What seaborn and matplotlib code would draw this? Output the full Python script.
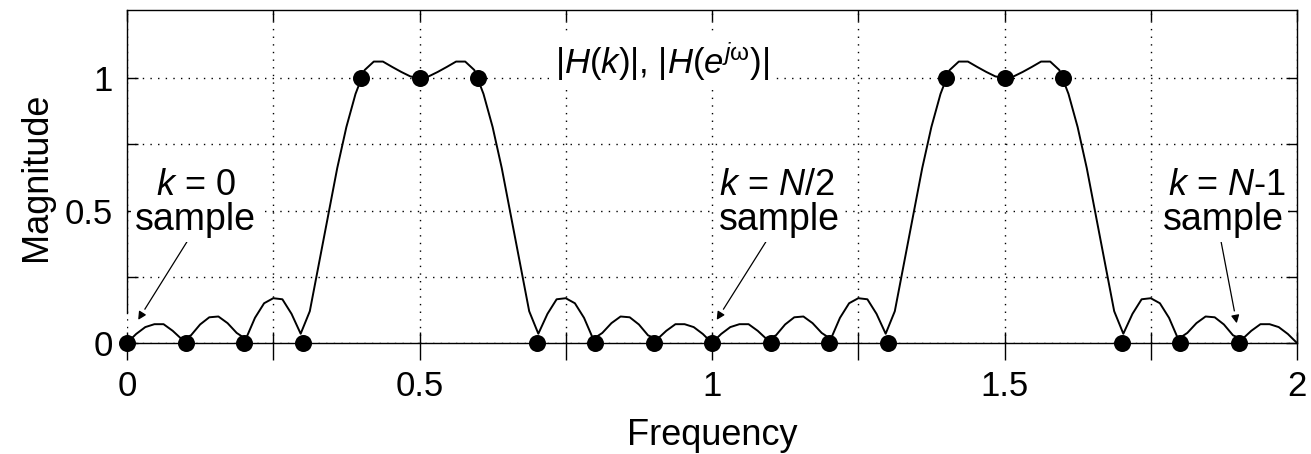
import numpy as np
import pandas as pd
import matplotlib
matplotlib.use("Agg")
import matplotlib.pyplot as plt
import seaborn as sns
from matplotlib import patheffects as pe

# ---- data ----
sample_freq = [0.0, 0.1, 0.2, 0.3, 0.4, 0.5, 0.6, 0.7, 0.8, 0.9,
               1.0, 1.1, 1.2, 1.3, 1.4, 1.5, 1.6, 1.7, 1.8, 1.9]
sample_mag = [0, 0, 0, 0, 1, 1, 1, 0, 0, 0,
              0, 0, 0, 0, 1, 1, 1, 0, 0, 0]

# continuous response |H(e^jw)|, read at 129 evenly spaced points over 0..2
curve_mag = [
    0.0, 0.034, 0.06, 0.071, 0.071, 0.046, 0.014, 0.029, 0.07, 0.097, 0.1,
    0.075, 0.038, 0.015, 0.095, 0.15, 0.169, 0.165, 0.11, 0.035, 0.12, 0.30,
    0.48, 0.66, 0.815, 0.94, 1.03, 1.062, 1.062, 1.042, 1.023, 1.006, 1.0,
    1.006, 1.023, 1.042, 1.062, 1.062, 1.03, 0.94, 0.815, 0.66, 0.48, 0.30,
    0.12, 0.035, 0.11, 0.165, 0.169, 0.15, 0.095, 0.015, 0.038, 0.075, 0.1,
    0.097, 0.07, 0.029, 0.014, 0.046, 0.071, 0.071, 0.06, 0.034, 0.0,
    0.034, 0.06, 0.071, 0.071, 0.046, 0.014, 0.029, 0.07, 0.097, 0.1,
    0.075, 0.038, 0.015, 0.095, 0.15, 0.169, 0.165, 0.11, 0.035, 0.12, 0.30,
    0.48, 0.66, 0.815, 0.94, 1.03, 1.062, 1.062, 1.042, 1.023, 1.006, 1.0,
    1.006, 1.023, 1.042, 1.062, 1.062, 1.03, 0.94, 0.815, 0.66, 0.48, 0.30,
    0.12, 0.035, 0.11, 0.165, 0.169, 0.15, 0.095, 0.015, 0.038, 0.075, 0.1,
    0.097, 0.07, 0.029, 0.014, 0.046, 0.071, 0.071, 0.06, 0.034, 0.0,
]
curve_freq = np.linspace(0.0, 2.0, len(curve_mag))

xtick_vals = [0, 0.25, 0.5, 0.75, 1.0, 1.25, 1.5, 1.75, 2.0]
xtick_labels = ["0", "", "0.5", "", "1", "", "1.5", "", "2"]
ytick_vals = [0, 0.25, 0.5, 0.75, 1.0]
ytick_labels = ["0", "", "0.5", "", "1"]

title_text = r"|$H$($k$)|, |$H$($e^{j\mathrm{\omega}}$)|"
ann_k = [r"$k$ = 0", r"$k$ = $N$/2", r"$k$ = $N$-1"]
ann_sample = "sample"

# ---- style ----
sns.set_theme(style="white")
plt.rcParams["font.family"] = ["Liberation Sans", "DejaVu Sans"]
plt.rcParams["mathtext.fontset"] = "custom"
plt.rcParams["mathtext.rm"] = "Liberation Sans"
plt.rcParams["mathtext.it"] = "Liberation Sans:italic"
plt.rcParams["mathtext.bf"] = "Liberation Sans:bold"

W, H = 1311, 454
fig = plt.figure(figsize=(W / 100, H / 100), dpi=100)
ax = fig.add_axes([127 / W, 1 - 343 / H, (1297 - 127) / W, (343 - 10) / H])

df_curve = pd.DataFrame({"freq": curve_freq, "mag": curve_mag})
df_samp = pd.DataFrame({"freq": sample_freq, "mag": sample_mag})

sns.lineplot(data=df_curve, x="freq", y="mag", ax=ax, color="black",
             linewidth=1.4, estimator=None, sort=False, clip_on=False, zorder=3)
sns.scatterplot(data=df_samp, x="freq", y="mag", ax=ax, color="black",
                s=150, edgecolor="black", linewidth=0, clip_on=False, zorder=4)

ax.set_xlim(0, 2)
ax.set_ylim(0, 333 / 265)

# ticks
ax.set_xticks(xtick_vals)
ax.set_xticklabels(xtick_labels)
ax.set_xticks(xtick_vals, minor=True)
ax.xaxis.remove_overlapping_locs = False
ax.tick_params(axis="x", which="major", direction="out", length=12.5, width=1.0,
               pad=7, labelsize=25, bottom=True, top=False, colors="black")
ax.tick_params(axis="x", which="minor", direction="in", length=8, width=1.0,
               bottom=True, top=True, colors="black")
ax.set_yticks(ytick_vals)
ax.set_yticklabels(ytick_labels)
ax.tick_params(axis="y", which="major", direction="in", length=8, width=1.0,
               pad=10, labelsize=25, left=True, right=True, colors="black")

# grid
ax.set_axisbelow(True)
ax.grid(True, which="major", color="black", linestyle=(0, (1, 4.5)), linewidth=1.0)

for s in ax.spines.values():
    s.set_color("black")
    s.set_linewidth(1.0)
ax.spines["left"].set_bounds(0.115, 333 / 265)

ax.set_xlabel("Frequency", fontsize=26, labelpad=11, color="black")
ax.set_ylabel("Magnitude", fontsize=26, labelpad=8, color="black")

# title-like label inside the axes
ax.text(0.915, 1.06, title_text, ha="center", va="center", fontsize=25,
        color="black", zorder=5,
        bbox=dict(facecolor="white", edgecolor="none", pad=4))

# annotations
ann_pos = [(0.117, 0.117), (1.111, 1.115), (1.88, 1.874)]
tails = [(0.113, 0.419), (1.107, 0.434), (1.868, 0.408)]
tips = [(0.019, 0.087), (1.008, 0.087), (1.897, 0.074)]
for label, (xk, xs), tail, tip in zip(ann_k, ann_pos, tails, tips):
    ax.text(xk, 0.596, label, ha="center", va="center",
            fontsize=26, color="black", zorder=5)
    ax.text(xs, 0.465, ann_sample, ha="center", va="center", fontsize=27,
            color="black", zorder=5,
            bbox=dict(facecolor="white", edgecolor="none", pad=3))
    arr = ax.annotate("", xy=tip, xytext=tail, zorder=2.4,
                      arrowprops=dict(arrowstyle="-|>", color="black", lw=0.9,
                                      mutation_scale=12, shrinkA=0, shrinkB=0))
    arr.arrow_patch.set_path_effects([pe.withStroke(linewidth=6, foreground="white")])

fig.savefig("out.png", dpi=100)
